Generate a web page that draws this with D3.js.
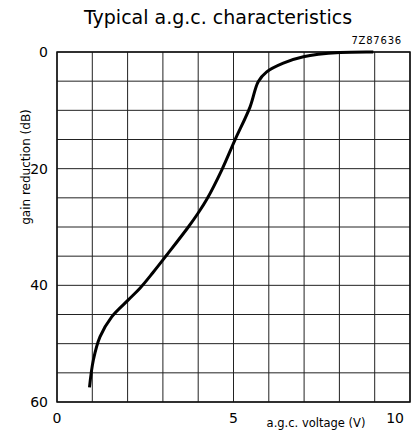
<!DOCTYPE html>
<html>
<head>
<meta charset="utf-8">
<script src="https://cdn.jsdelivr.net/npm/d3@7"></script>
<style>
  body { margin: 0; background: #fff; }
  svg { display: block; font-family: "DejaVu Sans", "Liberation Sans", sans-serif; }
</style>
</head>
<body>
<div id="chart"></div>
<script>
// values
const voltage = [0.92, 1.03, 1.22, 1.55, 2.02, 2.35, 2.72, 3.11, 3.72, 4.0, 4.24, 4.67, 5.04, 5.47, 5.70, 5.94, 6.41, 6.98, 8.02, 8.96];
const gainReduction = [57.5, 52.8, 48.8, 45.4, 42.5, 40.5, 37.8, 34.8, 30.0, 27.6, 25.3, 20.2, 15.1, 9.4, 5.1, 3.4, 1.9, 0.8, 0.1, 0];

const xTickLabels = [0, 5, 10];
const yTickLabels = [0, 20, 40, 60];

const width = 417, height = 434;
const marginLeft = 57, marginRight = 7, marginTop = 52, marginBottom = 32;

const x = d3.scaleLinear().domain([0, 10]).range([marginLeft, width - marginRight]);
const y = d3.scaleLinear().domain([0, 60]).range([marginTop, height - marginBottom]);

const svg = d3.select("#chart").append("svg")
    .attr("width", width)
    .attr("height", height);

// title
svg.append("text")
    .attr("x", 218).attr("y", 24)
    .attr("text-anchor", "middle")
    .style("font-size", "19px")
    .text("Typical a.g.c. characteristics");

// drawing number
svg.append("text")
    .attr("x", 402).attr("y", 44)
    .attr("text-anchor", "end")
    .style("font-size", "10px")
    .style("letter-spacing", "0.8px")
    .text("7Z87636");

// grid
const grid = svg.append("g").attr("stroke", "#222").attr("stroke-width", 1);
grid.selectAll("line.v")
  .data(d3.range(0, 11, 1))
  .join("line")
    .attr("x1", d => x(d)).attr("x2", d => x(d))
    .attr("y1", y(0)).attr("y2", y(60));
grid.selectAll("line.h")
  .data(d3.range(0, 61, 5))
  .join("line")
    .attr("x1", x(0)).attr("x2", x(10))
    .attr("y1", d => y(d)).attr("y2", d => y(d));

svg.append("rect")
    .attr("x", x(0)).attr("y", y(0))
    .attr("width", x(10) - x(0)).attr("height", y(60) - y(0))
    .attr("fill", "none").attr("stroke", "#111").attr("stroke-width", 1.5);

// tick labels
svg.append("g")
    .style("font-size", "14px")
    .attr("text-anchor", "end")
  .selectAll("text")
  .data(yTickLabels)
  .join("text")
    .attr("x", x(0) - 9)
    .attr("y", d => y(d))
    .attr("dy", "0.36em")
    .text(d => d);

svg.append("g")
    .style("font-size", "14px")
  .selectAll("text")
  .data(xTickLabels)
  .join("text")
    .attr("x", d => d === 10 ? x(d) - 6 : x(d))
    .attr("y", 423)
    .attr("text-anchor", d => d === 10 ? "end" : "middle")
    .text(d => d);

// axis titles
svg.append("text")
    .attr("transform", "translate(30,167) rotate(-90)")
    .attr("text-anchor", "middle")
    .style("font-size", "12px")
    .text("gain reduction (dB)");

svg.append("text")
    .attr("x", 316).attr("y", 427)
    .attr("text-anchor", "middle")
    .style("font-size", "11.5px")
    .text("a.g.c. voltage (V)");

// curve
const line = d3.line()
    .x((d, i) => x(voltage[i]))
    .y(d => y(d))
    .curve(d3.curveCatmullRom.alpha(0.5));

svg.append("path")
    .datum(gainReduction)
    .attr("fill", "none")
    .attr("stroke", "#000")
    .attr("stroke-width", 3)
    .attr("stroke-linecap", "butt")
    .attr("d", line);
</script>
</body>
</html>
